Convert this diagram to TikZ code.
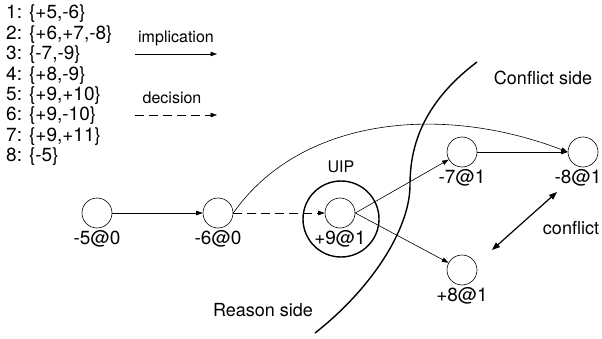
\documentclass[tikz,border=0pt]{standalone}
\usepackage{fontspec}
\setmainfont{TeX Gyre Heros}
\usetikzlibrary{arrows.meta}

\begin{document}
\begin{tikzpicture}
[x=1pt,y=-1pt,>={Triangle[length=6.5pt,width=4.5pt]},
 every node/.style={font=\fontsize{19}{22}\selectfont},
 every label/.style={inner sep=2pt},
 lit/.style={circle,draw=black,line width=0.6pt,minimum size=30pt,inner sep=0pt},
 uipring/.style={circle,draw=black,line width=1.4pt,minimum size=76pt,inner sep=0pt},
 big/.style={font=\fontsize{18}{22}\selectfont},
 small/.style={font=\fontsize{16}{19}\selectfont},
 decide/.style={dash pattern=on 9pt off 5pt}]
\useasboundingbox (0,0) rectangle (602,339);
% clauses
\foreach \cl [count=\i] in {{+5,-6},{+6,+7,-8},{-7,-9},{+8,-9},{+9,+10},{+9,-10},{+9,+11},{-5}}
  \node[anchor=west,inner sep=0pt] (c\i) at (6,{14+20.4*(\i-1)}) {\i: \{\cl\}};
% legend
\node[small] (impl) at (176,38) {implication};
\coordinate (impl-a) at (135,54);
\coordinate (impl-b) at (217,54);
\draw[->,line width=0.6pt] (impl-a) -- (impl-b);
\node[small] (dec) at (172,98) {decision};
\coordinate (dec-a) at (135,115);
\coordinate (dec-b) at (217,115);
\draw[->,decide,line width=0.6pt] (dec-a) -- (dec-b);
% implication graph
\node[uipring] (uip) at (341,219) {};
\node[small] (uiplab) at (341,167) {UIP};
\node[lit,label=below:-5@0] (m5) at (97,213) {};
\node[lit,label=below:-6@0] (m6) at (218,213) {};
\node[lit,label=below:+9@1] (p9) at (340,213) {};
\node[lit,label=below:-7@1] (m7) at (462,152) {};
\node[lit,label={[xshift=-5pt]below:-8@1}] (m8) at (583,152) {};
\node[lit,label=below:+8@1] (p8) at (462,270) {};
\begin{scope}[line width=0.6pt]
\draw[->] (m5) -- (m6);
\draw[->,decide] (m6) -- (p9);
\draw[->] (p9.east) -- (m7);
\draw[->] (p9.east) -- (p8);
\draw[->] (m7) -- (m8);
\draw[->] (m6.east) .. controls (300,118) and (440,103) .. (m8.west);
\end{scope}
% conflict
\coordinate (cf-a) at (492,250);
\coordinate (cf-b) at (557,192);
\draw[{Triangle[length=8pt,width=6pt]}-{Triangle[length=8pt,width=6pt]},line width=1.2pt] (cf-a) -- (cf-b);
\node[big] (cflab) at (571,228) {conflict};
% cut
\draw[line width=1.4pt] (477,62) .. controls (420,105) and (410,150) .. (410,185)
  .. controls (410,230) and (370,290) .. (315,333);
\node[big] (conf) at (543,78) {Conflict side};
\node[big] (reas) at (263,310) {Reason side};
\end{tikzpicture}
\end{document}
